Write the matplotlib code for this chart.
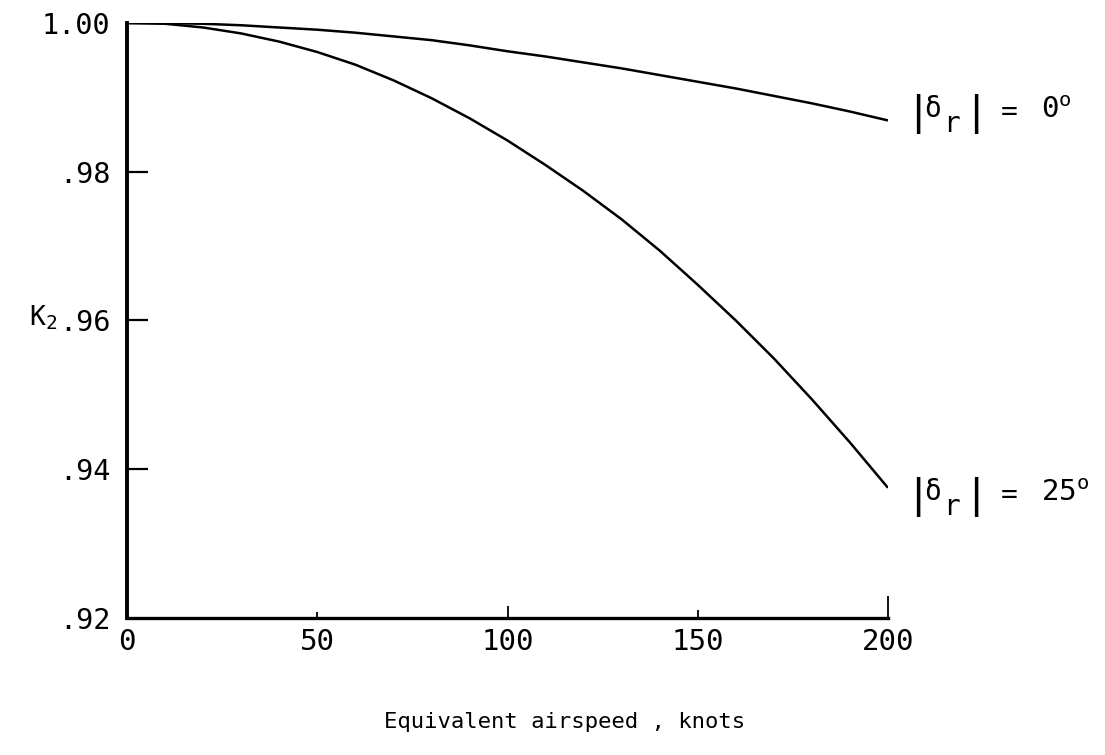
import matplotlib
matplotlib.use("Agg")
import matplotlib.pyplot as plt
from matplotlib.ticker import FixedLocator, FuncFormatter

# ===================================== Data
airspeed = [0, 10, 20, 30, 40, 50, 60, 70, 80, 90, 100,
            110, 120, 130, 140, 150, 160, 170, 180, 190, 200]

# |delta_r| = 0 deg
k2_rudder_0 = [1.0000, 1.0000, 0.9999, 0.9997, 0.9994, 0.9991, 0.9987,
               0.9982, 0.9977, 0.9970, 0.9962, 0.9955, 0.9947, 0.9939,
               0.9930, 0.9921, 0.9912, 0.9902, 0.9892, 0.9881, 0.9869]

# |delta_r| = 25 deg
k2_rudder_25 = [1.0000, 0.9999, 0.9994, 0.9986, 0.9975, 0.9961, 0.9944,
                0.9923, 0.9899, 0.9872, 0.9842, 0.9809, 0.9774, 0.9736,
                0.9694, 0.9648, 0.9600, 0.9549, 0.9494, 0.9436, 0.9375]

x_ticks = [0, 50, 100, 150, 200]
y_ticks = [0.92, 0.94, 0.96, 0.98, 1.00]

rudder_labels = ["0", "25"]
label_levels = [0.9880, 0.9365]

# ===================================== Plot
mono = "DejaVu Sans Mono"
plt.rcParams['font.family'] = mono
plt.rcParams['mathtext.fontset'] = 'custom'
plt.rcParams['mathtext.rm'] = mono
plt.rcParams['mathtext.it'] = mono

fig = plt.figure(figsize=(11.05, 7.55), dpi=100)
ax = fig.add_axes([0.115, 0.1815, 0.6886, 0.788])

ax.plot(airspeed, k2_rudder_0, color='black', lw=1.8, solid_capstyle='butt')
ax.plot(airspeed, k2_rudder_25, color='black', lw=1.8, solid_capstyle='butt')

ax.set_xlim(x_ticks[0], x_ticks[-1])
ax.set_ylim(y_ticks[0], y_ticks[-1])

for side in ['top', 'right']:
    ax.spines[side].set_visible(False)
ax.spines['left'].set_linewidth(2.8)
ax.spines['bottom'].set_linewidth(2.4)


def fmt_y(v, pos):
    if v >= 0.999:
        return "1.00"
    return ("%.2f" % v)[1:]


def fmt_x(v, pos):
    return "%d" % v


# tick marks only inside the frame, labels at the corners too
ax.yaxis.set_major_locator(FixedLocator(y_ticks[1:-1]))
ax.yaxis.set_minor_locator(FixedLocator([y_ticks[0], y_ticks[-1]]))
ax.yaxis.set_major_formatter(FuncFormatter(fmt_y))
ax.yaxis.set_minor_formatter(FuncFormatter(fmt_y))
ax.xaxis.set_major_locator(FixedLocator(x_ticks[1:]))
ax.xaxis.set_minor_locator(FixedLocator(x_ticks[:1]))
ax.xaxis.set_major_formatter(FuncFormatter(fmt_x))
ax.xaxis.set_minor_formatter(FuncFormatter(fmt_x))

ax.tick_params(axis='y', which='major', direction='in', length=15,
               width=1.6, pad=12, labelsize=20.5)
ax.tick_params(axis='y', which='minor', direction='in', length=0,
               pad=12, labelsize=20.5)
ax.tick_params(axis='x', which='major', direction='in', length=6,
               width=1.3, pad=7, labelsize=21)
ax.tick_params(axis='x', which='minor', direction='in', length=0,
               pad=7, labelsize=21)

# uneven tick heights along the bottom axis
for t, size in zip(ax.xaxis.get_major_ticks(), [4.5, 8.5, 5.5, 15.5]):
    t.tick1line.set_markersize(size)

# K2 label to the left of the .96 tick
ytr = ax.get_yaxis_transform()
ax.text(-0.1287, 0.9603, 'K', transform=ytr, fontsize=19,
        ha='left', va='center', clip_on=False)
ax.text(-0.1075, 0.9596, '2', transform=ytr, fontsize=14,
        ha='left', va='center', clip_on=False)

# curve labels  |delta_r| = n deg
for name, level in zip(rudder_labels, label_levels):
    kw = dict(xy=(x_ticks[-1], level), xycoords='data',
              textcoords='offset pixels', va='center', annotation_clip=False)
    ax.annotate('|', xytext=(30, -2), fontsize=31, ha='center',
                family='Liberation Sans', **kw)
    ax.annotate('δ', xytext=(45, 3), fontsize=20, ha='center', **kw)
    ax.annotate('r', xytext=(64, -12), fontsize=20, ha='center', **kw)
    ax.annotate('|', xytext=(88, -2), fontsize=31, ha='center',
                family='Liberation Sans', **kw)
    ax.annotate('=', xytext=(121, 0), fontsize=20, ha='center', **kw)
    ax.annotate(name + r'$^{\mathrm{o}}$', xytext=(153, 2), fontsize=21,
                ha='left', **kw)

fig.text(0.511, 0.044, 'Equivalent airspeed , knots', fontsize=16,
         ha='center', va='center')

fig.savefig('out.png', dpi=100, facecolor='white')
